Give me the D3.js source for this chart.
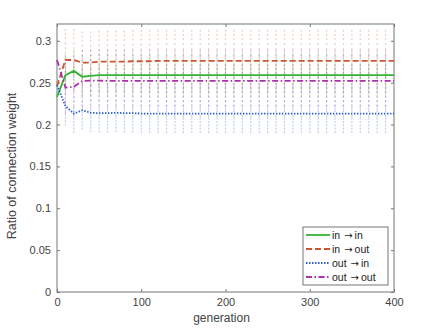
<!DOCTYPE html>
<html lang="en">
<head>
<meta charset="UTF-8"/>
<title>Ratio of connection weight</title>
<script src="https://d3js.org/d3.v7.min.js"></script>
<style>
  body { margin: 0; background: #fff; }
  text { font-family: "Liberation Sans", Arial, sans-serif; }
</style>
</head>
<body>
<script>
// mean ratio per generation (sampled every 10 generations)
var generations = d3.range(0, 401, 10);
var inIn   = [0.233,0.259,0.264,0.257,0.258,0.259,0.259,0.259,0.259,0.259,0.259,0.259,0.259,0.259,0.259,0.259,0.259,0.259,0.259,0.259,0.259,
              0.259,0.259,0.259,0.259,0.259,0.259,0.259,0.259,0.259,0.259,0.259,0.259,0.259,0.259,0.259,0.259,0.259,0.259,0.259,0.259];
var inOut  = [0.246,0.277,0.277,0.274,0.274,0.275,0.275,0.275,0.275,0.2755,0.2755,0.2755,0.276,0.276,0.276,0.276,0.276,0.276,0.276,0.276,0.276,
              0.276,0.276,0.276,0.276,0.276,0.276,0.276,0.276,0.276,0.276,0.276,0.276,0.276,0.276,0.276,0.276,0.276,0.276,0.276,0.276];
var outIn  = [0.247,0.222,0.213,0.217,0.214,0.2135,0.2135,0.214,0.2135,0.2135,0.213,0.213,0.213,0.213,0.213,0.213,0.213,0.213,0.213,0.213,0.213,
              0.213,0.213,0.213,0.213,0.213,0.213,0.213,0.213,0.213,0.213,0.213,0.213,0.213,0.213,0.213,0.213,0.213,0.213,0.213,0.213];
var outOut = [0.277,0.244,0.245,0.252,0.2525,0.2525,0.252,0.252,0.252,0.252,0.252,0.252,0.252,0.252,0.252,0.252,0.252,0.252,0.252,0.252,0.252,
              0.252,0.252,0.252,0.252,0.252,0.252,0.252,0.252,0.252,0.252,0.252,0.252,0.252,0.252,0.252,0.252,0.252,0.252,0.252,0.252];

// spread of the individual runs around the mean (read from the faint dot columns)
var spreadInIn   = [-0.022,-0.016,-0.011,-0.007,-0.004,-0.002,0.002,0.004,0.007,0.010,0.014,0.019,0.024];
var spreadInOut  = [-0.034,-0.027,-0.020,-0.014,-0.009,-0.005,0.004,0.009,0.014,0.020,0.026,0.031,0.036];
var spreadOutIn  = [-0.022,-0.018,-0.014,-0.010,-0.006,-0.003,0.003,0.006,0.010,0.015,0.020,0.026,0.032];
var spreadOutOut = [-0.030,-0.024,-0.018,-0.013,-0.008,-0.004,0.004,0.009,0.014,0.019,0.024,0.030,0.036];

var yTicks = [0, 0.05, 0.1, 0.15, 0.2, 0.25, 0.3];
var xTicks = [0, 100, 200, 300, 400];
var labels = [["in", "in"], ["in", "out"], ["out", "in"], ["out", "out"]];

var series = [
  {name: labels[0], values: inIn,   spread: spreadInIn,   color: "#33b233", dash: null},
  {name: labels[1], values: inOut,  spread: spreadInOut,  color: "#cc5533", dash: "6,3"},
  {name: labels[2], values: outIn,  spread: spreadOutIn,  color: "#2f5fcc", dash: "1.5,1.5"},
  {name: labels[3], values: outOut, spread: spreadOutOut, color: "#a932a9", dash: "6,2.5,1.5,2.5"}
];

var W = 436, H = 329;
var margin = {top: 24, right: 42, bottom: 37, left: 57};
var width = W - margin.left - margin.right,
    height = H - margin.top - margin.bottom;

var x = d3.scaleLinear().domain([0, 400]).range([0, width]);
var y = d3.scaleLinear().domain([0, 0.32]).range([height, 0]);

var svg = d3.select("body").append("svg")
    .attr("width", W).attr("height", H);

var main = svg.append("g")
    .attr("transform", "translate(" + margin.left + "," + margin.top + ")");

// faint dots of the individual runs
var dotData = [];
series.forEach(function (s) {
  generations.forEach(function (g, i) {
    if (g === 0 || g === 400) return;
    s.spread.forEach(function (d) {
      dotData.push({g: g, v: s.values[i] + d, color: s.color});
    });
  });
});
main.append("g").selectAll("rect")
    .data(dotData)
    .enter().append("rect")
    .attr("x", function (d) { return x(d.g) - 0.6; })
    .attr("y", function (d) { return y(d.v) - 1; })
    .attr("width", 1.2)
    .attr("height", 2)
    .attr("fill", function (d) { return d.color; })
    .attr("opacity", 0.3);

// axes box
var axisColor = "#777";
main.append("rect")
    .attr("width", width).attr("height", height)
    .attr("fill", "none").attr("stroke", axisColor).attr("stroke-width", 1);

var xAxis = main.append("g")
    .attr("transform", "translate(0," + height + ")")
    .call(d3.axisBottom(x).tickValues(xTicks).tickSize(-3).tickPadding(6).tickFormat(d3.format("d")));
var xTop = main.append("g")
    .call(d3.axisTop(x).tickValues(xTicks).tickSize(-3).tickFormat(""));
var yAxis = main.append("g")
    .call(d3.axisLeft(y).tickValues(yTicks).tickSize(-3).tickPadding(6).tickFormat(function (d) { return d === 0 ? "0" : String(d); }));
var yRight = main.append("g")
    .attr("transform", "translate(" + width + ",0)")
    .call(d3.axisRight(y).tickValues(yTicks).tickSize(-3).tickFormat(""));

[xAxis, xTop, yAxis, yRight].forEach(function (a) {
  a.select(".domain").remove();
  a.selectAll("line").attr("stroke", axisColor);
  a.selectAll("text").attr("fill", "#444").attr("font-size", "11px")
    .style("font-family", "'Liberation Sans', Arial, sans-serif");
});

// mean lines
var line = d3.line()
    .x(function (d, i) { return x(generations[i]); })
    .y(function (d) { return y(d); });

series.forEach(function (s) {
  main.append("path")
      .datum(s.values)
      .attr("fill", "none")
      .attr("stroke", s.color)
      .attr("stroke-width", 1.8)
      .attr("stroke-dasharray", s.dash)
      .attr("d", line);
});

// axis labels
svg.append("text")
    .attr("x", margin.left + width / 2 - 4)
    .attr("y", 322)
    .attr("text-anchor", "middle")
    .attr("fill", "#444").attr("font-size", "12px")
    .text("generation");

svg.append("text")
    .attr("transform", "translate(16,166) rotate(-90)")
    .attr("text-anchor", "middle")
    .attr("fill", "#444").attr("font-size", "12.5px")
    .text("Ratio of connection weight");

// legend
var legend = main.append("g")
    .attr("transform", "translate(" + (width - 91) + "," + (height - 65) + ")");
legend.append("rect")
    .attr("width", 85).attr("height", 58)
    .attr("fill", "#fff").attr("stroke", axisColor).attr("stroke-width", 1);
series.forEach(function (s, i) {
  var ly = 8 + i * 14;
  legend.append("line")
      .attr("x1", 3).attr("x2", 27).attr("y1", ly).attr("y2", ly)
      .attr("stroke", s.color).attr("stroke-width", 1.8)
      .attr("stroke-dasharray", s.dash);
  var t = legend.append("text")
      .attr("x", 29).attr("y", ly + 3.5)
      .attr("fill", "#222").attr("font-size", "10.5px");
  t.append("tspan").text(s.name[0]);
  t.append("tspan").attr("dx", 4)
      .style("font-family", "'DejaVu Sans', sans-serif")
      .attr("font-size", "10px")
      .text("\u2192");
  t.append("tspan").attr("dx", 2).text(s.name[1]);
});
</script>
</body>
</html>
